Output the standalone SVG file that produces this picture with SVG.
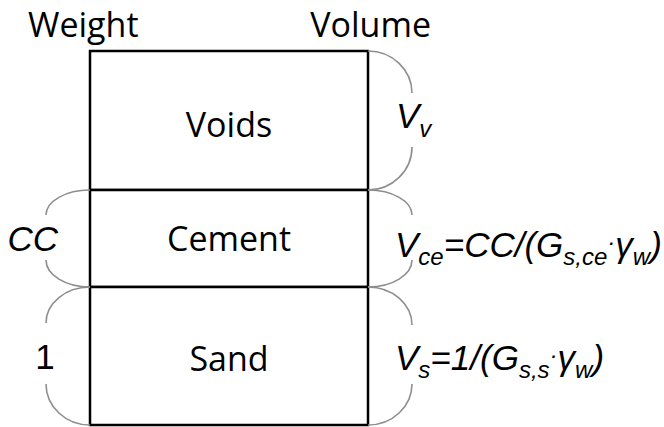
<svg xmlns="http://www.w3.org/2000/svg" width="664" height="427" viewBox="0 0 664 427">
<style>
.box{fill:#fff;stroke:#000;stroke-width:2.5}
.lbl{font-family:"Open Sans","Segoe UI","DejaVu Sans",sans-serif;font-size:34px;fill:#000}
.math{font-family:"Liberation Sans",Arial,sans-serif;font-size:35px;fill:#000;font-style:italic}
.up{font-style:normal}
.sub{font-size:24px}
.brace{fill:none;stroke:#8e8e8e;stroke-width:1.6}
</style>
<rect width="664" height="427" fill="#fff"/>
<text class="lbl" x="28" y="37">Weight</text>
<text class="lbl" x="431" y="37" text-anchor="end">Volume</text>
<g id="voids">
<rect class="box" x="90" y="51" width="278" height="139"/>
<text class="lbl" x="229" y="137" text-anchor="middle">Voids</text>
</g>
<g id="cement">
<rect class="box" x="90" y="190" width="278" height="97"/>
<text class="lbl" x="229" y="251" text-anchor="middle">Cement</text>
</g>
<g id="sand">
<rect class="box" x="90" y="287" width="278" height="138"/>
<text class="lbl" x="229" y="371" text-anchor="middle">Sand</text>
</g>
<g id="connectors">
<path class="brace" d="M368,51 A44,42 0 0 1 412,93 M412,147 A44,43 0 0 1 368,190"/>
<path class="brace" d="M368,190 A44,25 0 0 1 412,215 M412,260 A44,27 0 0 1 368,287"/>
<path class="brace" d="M368,287 A44,38 0 0 1 412,325 M412,384 A44,41 0 0 1 368,425"/>
<path class="brace" d="M90,190 A44,25 0 0 0 46,215 M46,260 A44,27 0 0 0 90,287"/>
<path class="brace" d="M90,287 A44,36 0 0 0 46,323 M46,384 A44,41 0 0 0 90,425"/>
</g>
<g id="labels">
<text class="math" x="396" y="128">V<tspan class="sub" dy="9">v</tspan></text>
<text class="math" x="58" y="251" text-anchor="end">CC</text>
<text class="math up" x="45" y="369" text-anchor="middle">1</text>
<text class="math" x="395" y="257">V<tspan class="sub" dy="8">ce</tspan><tspan dy="-8">=CC/(G</tspan><tspan class="sub" dy="8">s,ce</tspan><tspan class="sub" dy="-15">·</tspan><tspan dy="7">γ</tspan><tspan class="sub" dy="8">w</tspan><tspan dy="-8">)</tspan></text>
<text class="math" x="395" y="370">V<tspan class="sub" dy="8">s</tspan><tspan dy="-8">=1/(G</tspan><tspan class="sub" dy="8">s,s</tspan><tspan class="sub" dy="-15">·</tspan><tspan dy="7">γ</tspan><tspan class="sub" dy="8">w</tspan><tspan dy="-8">)</tspan></text>
</g>
</svg>
